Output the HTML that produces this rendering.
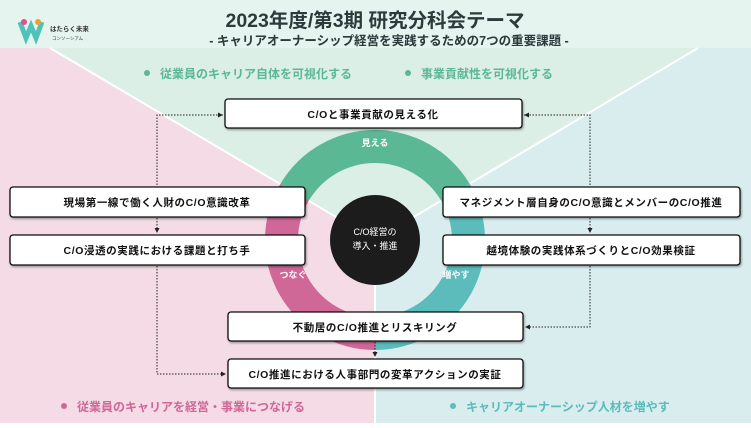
<!DOCTYPE html>
<html><head><meta charset="utf-8"><style>
body{margin:0;width:751px;height:423px;overflow:hidden;font-family:"Liberation Sans","Noto Sans CJK JP",sans-serif;}
svg text{font-family:"Liberation Sans","Noto Sans CJK JP",sans-serif;}
</style></head><body>
<svg width="751" height="423" viewBox="0 0 751 423" xmlns="http://www.w3.org/2000/svg">
<defs>
<marker id="a" markerWidth="6" markerHeight="6" refX="5" refY="3" orient="auto"><path d="M0,0.5 L5,3 L0,5.5Z" fill="#222"/></marker>
<filter id="s" x="-5%" y="-20%" width="110%" height="150%"><feDropShadow dx="1" dy="1.5" stdDeviation="1" flood-opacity="0.35"/></filter>
</defs>
<rect width="751" height="423" fill="#f4dbe6"/>
<polygon points="375,240 375,423 751,423 751,48 698,48" fill="#d9edef"/>
<polygon points="50,48 698,48 375,240" fill="#dcefe7"/>
<rect width="751" height="48" fill="#e5f4ef"/>
<polyline points="50,48 375,240 698,48" fill="none" stroke="#fff" stroke-width="2"/>
<line x1="375" y1="240" x2="375" y2="423" stroke="#fff" stroke-width="2"/>
<path d="M280.3,184 A110 110 0 0 1 469.6,183.8 L441.2,200.7 A77 77 0 0 0 308.7,200.8 Z" fill="#5bb894"/>
<path d="M469.6,183.8 A110 110 0 0 1 375,350 L375,317 A77 77 0 0 0 441.2,200.7 Z" fill="#5bbcbb"/>
<path d="M375,350 A110 110 0 0 1 280.3,184 L308.7,200.8 A77 77 0 0 0 375,317 Z" fill="#cf6797"/>
<circle cx="375" cy="240" r="45" fill="#1c1c1c"/>
<text x="375" y="235" font-size="9" fill="#fff" text-anchor="middle">C/O経営の</text>
<text x="375" y="249" font-size="9" fill="#fff" text-anchor="middle">導入・推進</text>
<text x="375" y="146" font-size="9" fill="#fff" text-anchor="middle" font-weight="bold">見える</text>
<text x="293" y="278" font-size="9" fill="#fff" text-anchor="middle" font-weight="bold">つなぐ</text>
<text x="456" y="278" font-size="9" fill="#fff" text-anchor="middle" font-weight="bold">増やす</text>
<path d="M20,22 L26,38 L31,26 L36,38 L42,22" fill="none" stroke="#4fc3b8" stroke-width="5"/>
<circle cx="24" cy="22" r="3" fill="#e0508e"/><circle cx="38" cy="22" r="3" fill="#f0a030"/>
<text x="50" y="31" font-size="6.5" fill="#333" font-weight="bold">はたらく未来</text>
<text x="52" y="40" font-size="4.5" fill="#333">コンソーシアム</text>
<text x="375" y="27" font-size="19.5" font-weight="bold" fill="#2b3a3a" text-anchor="middle">2023年度/第3期 研究分科会テーマ</text>
<text x="389" y="45" font-size="12.5" font-weight="bold" fill="#2b3a3a" text-anchor="middle">- キャリアオーナーシップ経営を実践するための7つの重要課題 -</text>
<g font-size="12" font-weight="bold">
<circle cx="147" cy="73" r="3" fill="#5bb894"/><text x="160" y="78" fill="#5bb894">従業員のキャリア自体を可視化する</text>
<circle cx="408" cy="73" r="3" fill="#5bb894"/><text x="421" y="78" fill="#5bb894">事業貢献性を可視化する</text>
<circle cx="64" cy="406" r="3" fill="#cf6797"/><text x="77" y="411" fill="#cf6797">従業員のキャリアを経営・事業につなげる</text>
<circle cx="453" cy="406" r="3" fill="#5bbcbb"/><text x="466" y="411" fill="#5bbcbb">キャリアオーナーシップ人材を増やす</text>
</g>
<g stroke="#222" stroke-width="1" stroke-dasharray="1.5,1.5" fill="none">
<polyline points="157,185 157,115 223,115" marker-end="url(#a)"/>
<line x1="157" y1="218" x2="157" y2="233" marker-end="url(#a)"/>
<polyline points="157,266 157,374 226,374" marker-end="url(#a)"/>
<polyline points="590,185 590,115 524,115" marker-end="url(#a)"/>
<line x1="590" y1="218" x2="590" y2="233" marker-end="url(#a)"/>
<polyline points="590,266 590,327 525,327" marker-end="url(#a)"/>
<line x1="375" y1="342" x2="375" y2="357" marker-end="url(#a)"/>
</g>
<g fill="#fff" stroke="#111" stroke-width="1.3" filter="url(#s)">
<rect x="225" y="99" width="297" height="29" rx="3"/>
<rect x="10" y="187" width="295" height="30" rx="3"/>
<rect x="10" y="235" width="295" height="30" rx="3"/>
<rect x="443" y="187" width="297" height="30" rx="3"/>
<rect x="443" y="235" width="297" height="30" rx="3"/>
<rect x="228" y="312" width="295" height="29" rx="3"/>
<rect x="228" y="359" width="295" height="29" rx="3"/>
</g>
<g font-size="10.5" fill="#111" text-anchor="middle" font-weight="bold" letter-spacing="0.6">
<text x="373" y="118">C/Oと事業貢献の見える化</text>
<text x="157" y="206">現場第一線で働く人財のC/O意識改革</text>
<text x="157" y="254">C/O浸透の実践における課題と打ち手</text>
<text x="591" y="206">マネジメント層自身のC/O意識とメンバーのC/O推進</text>
<text x="591" y="254">越境体験の実践体系づくりとC/O効果検証</text>
<text x="375" y="331">不動居のC/O推進とリスキリング</text>
<text x="375" y="378">C/O推進における人事部門の変革アクションの実証</text>
</g>
</svg>
</body></html>
